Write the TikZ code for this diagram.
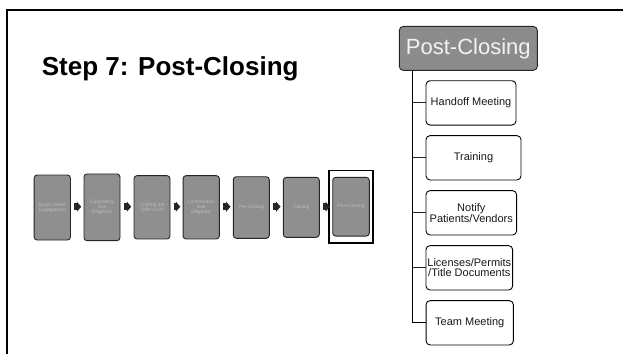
\documentclass[tikz,border=0pt]{standalone}
\usepackage{fontspec}
\setmainfont{Liberation Sans}
\usetikzlibrary{arrows.meta,fit}

\definecolor{stagefill}{HTML}{8F8F8F}
\definecolor{stagetext}{HTML}{BEBEBE}
\definecolor{headfill}{HTML}{8C8C8C}
\definecolor{headtext}{HTML}{F2F2F2}
\definecolor{edge}{HTML}{262626}

\begin{document}
\begin{tikzpicture}[x=1pt,y=-1pt,
  stage/.style={draw=edge, line width=0.9pt, fill=stagefill, rounded corners=3pt,
    minimum width=36.3pt, inner sep=0pt, text=stagetext, align=center,
    font=\fontsize{4.8}{5}\selectfont},
  flowarrow/.style={draw=edge, line width=6.7pt,
    -{Triangle[length=4.4pt,width=10pt,line width=0pt]}},
  highlight/.style={draw=black, line width=1.8pt, inner xsep=3.4pt, inner ysep=6.4pt},
  header/.style={draw=edge, line width=0.9pt, fill=headfill, rounded corners=4pt,
    minimum width=138pt, minimum height=44pt, inner sep=0pt, text=headtext,
    font=\fontsize{22}{26}\selectfont},
  task/.style={draw=black, line width=0.9pt, fill=white, rounded corners=4pt,
    minimum height=44.3pt, inner sep=0pt, align=center, text=black!90,
    font=\fontsize{11}{10.5}\selectfont},
  trunkline/.style={draw=black, line width=1.3pt},
  branch/.style={draw=black!85, line width=1pt},
  title/.style={anchor=base west, inner sep=0pt, font=\fontsize{26}{30}\selectfont\bfseries}
]
\useasboundingbox (0,0) rectangle (623,354);
\fill[white] (0,0) rectangle (623,354);

% slide border (top and left edges)
\draw[line width=1.8pt] (6.6,354) -- (6.6,10.2) -- (623,10.2);

% title
\node[title] (ttl) at (41.7,75) {Step 7: Post-Closing};

% the seven stages of the process
\node[stage, minimum height=65pt]   (s1) at (52.3,207.5) {Buyer /Seller\\Engagement};
\node[stage, minimum height=66.7pt, minimum width=36pt] (s2) at (102,207.3) {Exploratory\\Due\\Diligence};
\node[stage, minimum height=63.3pt, minimum width=36pt] (s3) at (152,207.3) {Crafting the\\Offer / LOI};
\node[stage, minimum height=63.3pt] (s4) at (201.2,207.3) {Confirmatory\\Due\\Diligence};
\node[stage, minimum height=61.6pt, minimum width=36pt] (s5) at (251.3,207.5) {Pre-Closing};
\node[stage, minimum height=60pt, minimum width=36pt]   (s6) at (301.3,207.3) {Closing};
\node[stage, minimum height=58.7pt, minimum width=36.6pt] (s7) at (351,206.7) {Post-Closing};

% current step
\node[highlight, fit=(s7)] (hl) {};

% arrows between stages
\foreach \a/\b in {s1/s2,s2/s3,s3/s4,s4/s5,s5/s6,s6/s7}
  \draw[flowarrow] ([xshift=3.3pt]\a.east |- 0,206.7) -- ([xshift=-2.3pt]\b.west |- 0,206.7);

% breakdown of the post-closing step
\node[header] (hd) at (468.3,48.4) {Post-Closing};
\node[task, minimum width=90pt]   (c1) at (471,102.9)   {Handoff Meeting};
\node[task, minimum width=95pt]   (c2) at (473.5,157.8) {Training};
\node[task, minimum width=90.6pt, font=\fontsize{11}{10}\selectfont] (c3) at (471.3,212.8) {Notify\\Patients/Vendors};
\node[task, minimum width=86.7pt] (c4) at (469.3,267.8) {Licenses/Permits\\/Title Documents};
\node[task, minimum width=87.3pt] (c5) at (469.7,322.8) {Team Meeting};

\coordinate (trunk) at ([xshift=13.7pt]hd.south west);
\draw[trunkline] (trunk) |- (c5.west);
\foreach \c in {c1,c2,c3,c4}
  \draw[branch] (trunk |- \c.west) -- (\c.west);
\end{tikzpicture}
\end{document}
